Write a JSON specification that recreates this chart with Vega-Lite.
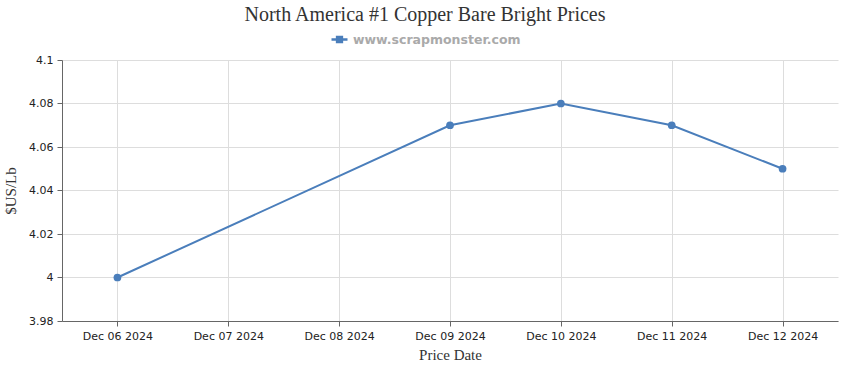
{
  "$schema": "https://vega.github.io/schema/vega-lite/v6.json",
  "width": 776,
  "height": 261,
  "autosize": "none",
  "padding": {"left": 62, "top": 60, "right": 12, "bottom": 49},
  "background": "white",
  "title": {
    "text": "North America #1 Copper Bare Bright Prices",
    "font": "Liberation Serif",
    "fontSize": 20,
    "fontWeight": "normal",
    "color": "#333333",
    "anchor": "middle",
    "dx": -25,
    "offset": 5
  },
  "data": {
    "values": [
      {"date": "2024-12-06", "price": 4.00, "series": "www.scrapmonster.com"},
      {"date": "2024-12-09", "price": 4.07, "series": "www.scrapmonster.com"},
      {"date": "2024-12-10", "price": 4.08, "series": "www.scrapmonster.com"},
      {"date": "2024-12-11", "price": 4.07, "series": "www.scrapmonster.com"},
      {"date": "2024-12-12", "price": 4.05, "series": "www.scrapmonster.com"}
    ]
  },
  "config": {
    "view": {"stroke": null},
    "axis": {
      "labelFont": "DejaVu Sans",
      "labelFontSize": 11,
      "labelColor": "#222222",
      "titleFont": "Liberation Serif",
      "titleFontSize": 15,
      "titleFontWeight": "normal",
      "titleColor": "#333333",
      "gridColor": "#dddddd",
      "domainColor": "#666666",
      "tickColor": "#666666",
      "tickSize": 5
    }
  },
  "encoding": {
    "x": {
      "field": "date",
      "type": "temporal",
      "scale": {
        "type": "utc",
        "domain": [
          {"year": 2024, "month": 12, "date": 5, "hours": 12, "utc": true},
          {"year": 2024, "month": 12, "date": 12, "hours": 12, "utc": true}
        ]
      },
      "axis": {
        "format": "%b %d %Y",
        "tickCount": {"interval": "day", "step": 1},
        "labelPadding": 4,
        "title": "Price Date",
        "titlePadding": 6,
        "labelAngle": 0
      }
    },
    "y": {
      "field": "price",
      "type": "quantitative",
      "scale": {"domain": [3.98, 4.1], "zero": false, "nice": false},
      "axis": {
        "values": [3.98, 4.0, 4.02, 4.04, 4.06, 4.08, 4.1],
        "format": ".2~f",
        "title": "$US/Lb",
        "titlePadding": 10,
        "labelPadding": 4
      }
    },
    "color": {
      "field": "series",
      "type": "nominal",
      "scale": {"range": ["#4a7ebb"]},
      "legend": {
        "title": null,
        "orient": "none",
        "legendX": 268,
        "legendY": -30,
        "symbolType": "M-1,0H1M-0.3,-0.3H0.3V0.3H-0.3Z",
        "symbolSize": 256,
        "symbolStrokeWidth": 2.5,
        "symbolFillColor": "#4a7ebb",
        "symbolStrokeColor": "#4a7ebb",
        "labelFont": "DejaVu Sans",
        "labelFontSize": 12.5,
        "labelFontWeight": "bold",
        "labelColor": "#aaaaaa",
        "labelLimit": 400
      }
    }
  },
  "layer": [
    {"mark": {"type": "line", "strokeWidth": 2}},
    {"mark": {"type": "point", "filled": true, "size": 60, "opacity": 1}}
  ]
}
